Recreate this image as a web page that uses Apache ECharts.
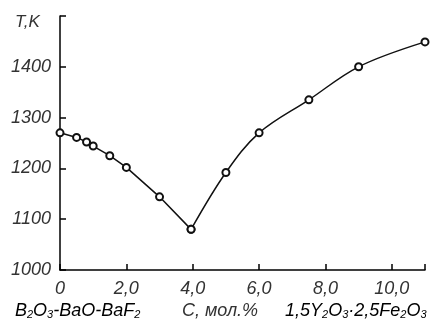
<!DOCTYPE html>
<html>
<head>
<meta charset="utf-8">
<script src="https://cdn.jsdelivr.net/npm/echarts@6/dist/echarts.min.js"></script>
<style>
  html, body { margin: 0; padding: 0; background: #fff; }
  #chart { width: 434px; height: 323px; }
</style>
</head>
<body>
<div id="chart"></div>
<script>
// состав, мол.% и температура ликвидуса, K
const conc = [0, 0.5, 0.8, 1.0, 1.5, 2.0, 3.0, 3.95, 5.0, 6.0, 7.5, 9.0, 11.0];
const temp = [1270, 1261, 1252, 1244, 1225, 1202, 1144, 1080, 1192, 1270, 1335, 1400, 1449];
const yTicks = [1000, 1100, 1200, 1300, 1400, 1500];
const xTicks = [0, 2, 4, 6, 8, 10];
const eutectic = 7; // индекс минимума

const chart = echarts.init(document.getElementById('chart'));
const font = 'Liberation Sans, Arial, sans-serif';
const textColor = '#333';

const sub = { fontSize: 11, fontStyle: 'italic', fontFamily: font, color: textColor, padding: [8, 0, 0, 0] };
const norm = { fontSize: 18, fontStyle: 'italic', fontFamily: font, color: textColor };

const pts = conc.map((c, i) => [c, temp[i]]);
const lineCommon = {
  type: 'line',
  symbol: 'emptyCircle',
  symbolSize: 7,
  lineStyle: { color: '#111', width: 1.5 },
  itemStyle: { color: '#111', borderWidth: 1 },
  z: 3
};

const tickStyle = { inside: true, length: 6, lineStyle: { color: '#000', width: 1.5 } };

const option = {
  animation: false,
  grid: { left: 60, right: 9, top: 16, bottom: 53 },
  xAxis: [{
    type: 'value',
    min: 0,
    max: 11,
    interval: 2,
    axisLine: { lineStyle: { color: '#000', width: 1.5 } },
    axisTick: tickStyle,
    splitLine: { show: false },
    axisLabel: {
      margin: 10,
      fontSize: 18,
      fontStyle: 'italic',
      fontFamily: font,
      color: textColor,
      showMaxLabel: false,
      formatter: v => xTicks.includes(v) ? (v === 0 ? '0' : v.toFixed(1).replace('.', ',')) : ''
    }
  }, {
    // только засечка на правом конце оси
    type: 'value',
    position: 'bottom',
    offset: 0,
    min: 0,
    max: 11,
    interval: 11,
    axisLine: { show: false },
    axisTick: tickStyle,
    axisLabel: { show: false },
    splitLine: { show: false }
  }],
  yAxis: {
    type: 'value',
    min: 1000,
    max: 1500,
    interval: 100,
    axisLine: { show: true, lineStyle: { color: '#000', width: 1.5 } },
    axisTick: Object.assign({ show: true }, tickStyle),
    splitLine: { show: false },
    axisLabel: {
      margin: 9,
      fontSize: 18,
      fontStyle: 'italic',
      fontFamily: font,
      color: textColor,
      formatter: v => (yTicks.includes(v) && v < 1500) ? String(v) : ''
    }
  },
  graphic: [
    { type: 'text', left: 15, top: 14, style: { text: 'T,K', font: 'italic 17px ' + font, fill: textColor } },
    {
      type: 'text', left: 15, top: 302,
      style: {
        text: '{n|B}{s|2}{n|O}{s|3}{n|-BaO-BaF}{s|2}',
        rich: { n: norm, s: sub }
      }
    },
    { type: 'text', left: 182, top: 302, style: { text: 'C, мол.%', font: 'italic 18px ' + font, fill: textColor } },
    {
      type: 'text', left: 285, top: 302,
      style: {
        text: '{n|1,5Y}{s|2}{n|O}{s|3}{n|·2,5Fe}{s|2}{n|O}{s|3}',
        rich: { n: norm, s: sub }
      }
    }
  ],
  series: [
    Object.assign({}, lineCommon, { data: pts.slice(0, eutectic + 1), smooth: false }),
    Object.assign({}, lineCommon, { data: pts.slice(eutectic), smooth: 0.35 })
  ]
};

chart.setOption(option);
</script>
</body>
</html>
